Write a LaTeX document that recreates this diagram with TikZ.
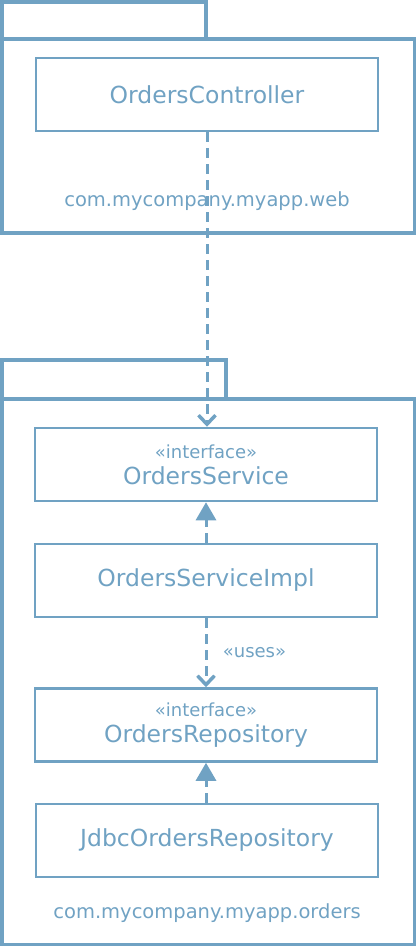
\documentclass[tikz,border=0pt]{standalone}
\usepackage{fontspec}
\setmainfont{DejaVu Sans}
\usetikzlibrary{arrows.meta, positioning}
\definecolor{umlblue}{RGB}{112,162,195}
\newcommand{\stereofont}{\fontsize{18}{19}\selectfont}

\begin{document}
\begin{tikzpicture}[
  x=1pt, y=-1pt,
  pkg/.style={draw=umlblue, line width=3.5pt},
  cls/.style={rectangle, draw=umlblue, line width=2.5pt, minimum width=342pt, minimum height=73pt,
    inner sep=0pt, align=center, text=umlblue, font=\fontsize{23.5}{26}\selectfont},
  pkglabel/.style={text=umlblue, font=\fontsize{19.5}{21}\selectfont},
  dep/.style={draw=umlblue, line width=3pt, dash pattern=on 10pt off 6pt,
    -{Straight Barb[length=9pt, width=17pt, line width=3.5pt]}},
  real/.style={draw=umlblue, line width=3pt, dash pattern=on 10pt off 6pt,
    -{Triangle[length=18pt, width=20pt]}}
]
\useasboundingbox (0,0) rectangle (416,946);

% Package: web
\draw[pkg] (1.75,39) -- (1.75,1.75) -- (206,1.75) -- (206,39);
\draw[pkg] (1.75,39) rectangle (414.25,233);
\node[cls] (ctrl) at (207,94.5) {OrdersController};
\node[pkglabel] (weblabel) at (207,201) {com.mycompany.myapp.web};

% Package: orders
\draw[pkg] (1.75,399) -- (1.75,360) -- (226,360) -- (226,399);
\draw[pkg] (1.75,399) rectangle (414.25,944.25);

\node[cls] (svc) at (206,464.5) {{\stereofont «interface»}\\[0pt]OrdersService};
\node[cls] (impl) at (206,580.5) {OrdersServiceImpl};
\node[cls] (repo) at (206,725) {{\stereofont «interface»}\\[0pt]OrdersRepository};
\node[cls] (jdbc) at (207,840.5) {JdbcOrdersRepository};
\node[pkglabel] (orderslabel) at (207,913) {com.mycompany.myapp.orders};

% Dependencies
\draw[dep] (ctrl.south) -- (ctrl.south |- svc.north);
\draw[dep] (impl.south) -- (repo.north)
  node[midway, right=12pt, text=umlblue, font=\stereofont] (uses) {«uses»};

% Realizations
\draw[real] (impl.north) -- (svc.south);
\draw[real] (jdbc.north -| repo.south) -- (repo.south);

\end{tikzpicture}
\end{document}
